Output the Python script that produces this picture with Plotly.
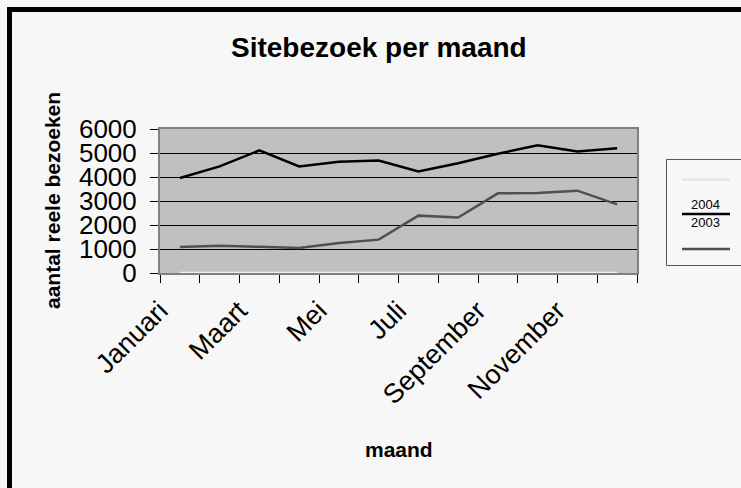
import plotly.graph_objects as go

# ---- data ----
months = ["Januari", "Februari", "Maart", "April", "Mei", "Juni", "Juli",
          "Augustus", "September", "Oktober", "November", "December"]
tick_labels = ["Januari", "", "Maart", "", "Mei", "", "Juli", "", "September", "", "November", ""]
visits_2004 = [3960, 4440, 5110, 4440, 4640, 4690, 4230, 4570, 4970, 5320, 5060, 5200]
visits_2003 = [1080, 1140, 1090, 1040, 1250, 1390, 2390, 2310, 3320, 3330, 3430, 2860]
visits_other = [0, 0, 0, 0, 0, 0, 0, 0, 0, 0, 0, 0]

W, H = 741, 488
L, R, T, B = 160, 637, 129, 273  # plot area in pixels


def px(x):
    return (x - L) / (R - L)


def py(y):
    return (B - y) / (B - T)


FONT = "Arial, Liberation Sans, sans-serif"

fig = go.Figure()
fig.add_trace(go.Scatter(x=months, y=visits_other, mode="lines", name="",
                         line=dict(color="#f2f2f2", width=2.5), showlegend=False))
fig.add_trace(go.Scatter(x=months, y=visits_2004, mode="lines", name="2004",
                         line=dict(color="#000000", width=2.5), showlegend=False))
fig.add_trace(go.Scatter(x=months, y=visits_2003, mode="lines", name="2003",
                         line=dict(color="#505050", width=2.5), showlegend=False))

shapes = [
    # outer chart border (cropped at right/bottom)
    dict(type="rect", xref="paper", yref="paper", x0=px(9.5), x1=px(800),
         y0=py(520), y1=py(9.5), line=dict(color="#000000", width=5), layer="below"),
    # legend box
    dict(type="rect", xref="paper", yref="paper", x0=px(666.5), x1=px(800),
         y0=py(265.5), y1=py(159.5), line=dict(color="#555555", width=1),
         fillcolor="#f7f7f7"),
    dict(type="line", xref="paper", yref="paper", x0=px(682), x1=px(730),
         y0=py(179.5), y1=py(179.5), line=dict(color="#e4e4e4", width=2)),
    dict(type="line", xref="paper", yref="paper", x0=px(682), x1=px(730),
         y0=py(214), y1=py(214), line=dict(color="#000000", width=2.5)),
    dict(type="line", xref="paper", yref="paper", x0=px(682), x1=px(730),
         y0=py(249), y1=py(249), line=dict(color="#505050", width=2.5)),
]

annotations = [
    dict(text="<b>Sitebezoek per maand</b>", xref="paper", yref="paper",
         x=px(379), y=py(47), xanchor="center", yanchor="middle", showarrow=False,
         font=dict(family=FONT, size=28, color="#000000")),
    dict(text="<b>aantal reele bezoeken</b>", xref="paper", yref="paper",
         x=px(52), y=py(201), xanchor="center", yanchor="middle", showarrow=False,
         textangle=-90, font=dict(family=FONT, size=21, color="#000000")),
    dict(text="<b>maand</b>", xref="paper", yref="paper",
         x=px(399), y=py(449), xanchor="center", yanchor="middle", showarrow=False,
         font=dict(family=FONT, size=21, color="#000000")),
    dict(text="2004", xref="paper", yref="paper",
         x=px(705), y=py(204.5), xanchor="center", yanchor="middle", showarrow=False,
         font=dict(family=FONT, size=13, color="#000000")),
    dict(text="2003", xref="paper", yref="paper",
         x=px(705), y=py(222), xanchor="center", yanchor="middle", showarrow=False,
         font=dict(family=FONT, size=13, color="#000000")),
]

fig.update_layout(
    width=W, height=H,
    margin=dict(l=L, r=W - R, t=T, b=H - B, pad=0),
    paper_bgcolor="#f7f7f7",
    plot_bgcolor="#c0c0c0",
    showlegend=False,
    shapes=shapes,
    annotations=annotations,
    font=dict(family=FONT, color="#000000"),
    xaxis=dict(
        type="category",
        tickmode="array", tickvals=months, ticktext=tick_labels,
        tickson="boundaries",
        ticks="outside", ticklen=8, tickcolor="#000000", tickwidth=1,
        tickangle=-45,
        tickfont=dict(family=FONT, size=27, color="#000000"),
        ticklabelstandoff=9,
        ticklabelshift=-20,
        showgrid=False,
        showline=True, linecolor="#808080", linewidth=2, mirror=True,
        range=[-0.5, 11.5],
        fixedrange=True,
    ),
    yaxis=dict(
        range=[0, 6000], tickmode="linear", tick0=0, dtick=1000,
        ticks="outside", ticklen=8, tickcolor="#000000", tickwidth=1,
        tickfont=dict(family=FONT, size=26, color="#000000"),
        ticklabelstandoff=8,
        showgrid=True, gridcolor="#000000", gridwidth=1,
        zeroline=True, zerolinecolor="#000000", zerolinewidth=1,
        showline=True, linecolor="#808080", linewidth=2, mirror=True,
        fixedrange=True,
    ),
)

fig.write_html(
    "out.html",
    config={"displayModeBar": False},
    post_script="document.body.style.margin='0px';document.body.style.background='#f7f7f7';",
)
